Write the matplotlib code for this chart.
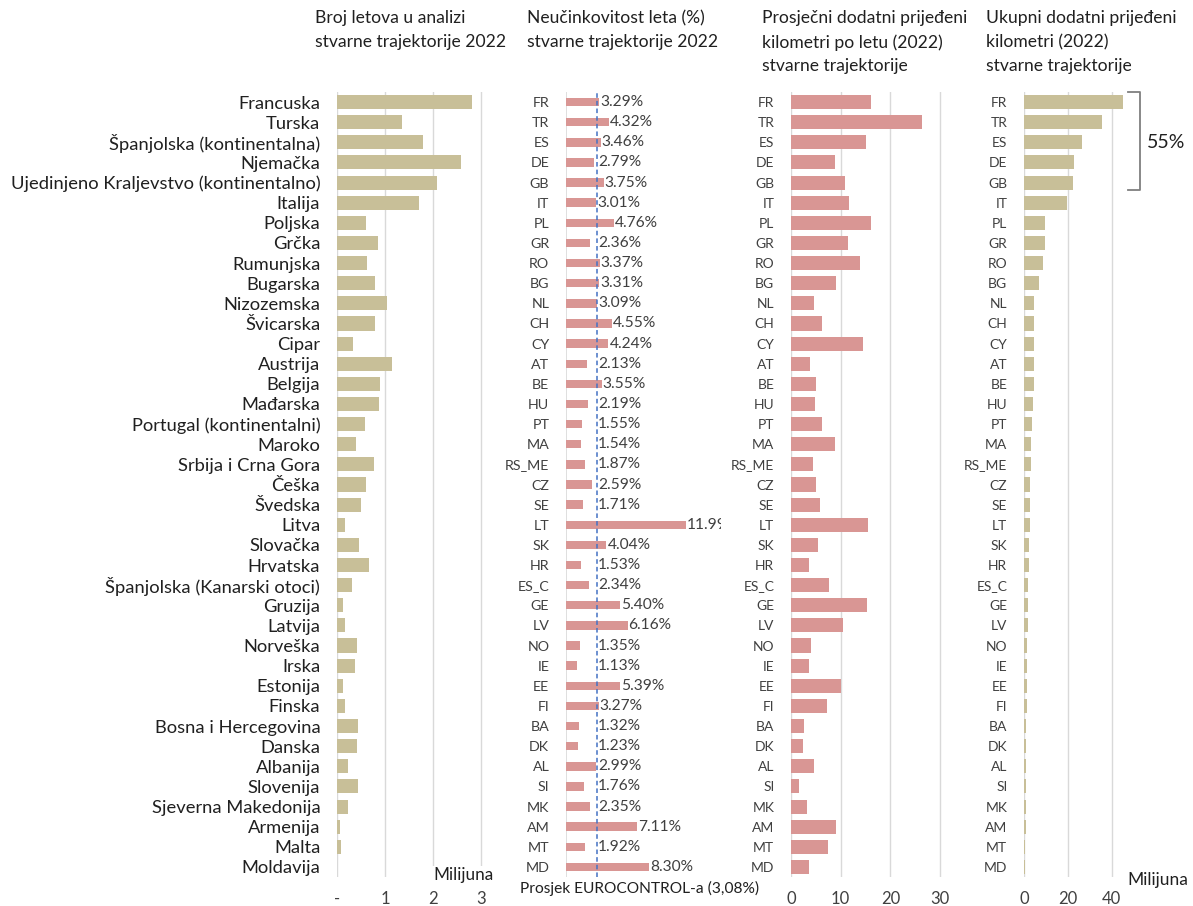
import matplotlib
matplotlib.use("Agg")
import matplotlib.pyplot as plt
from matplotlib.lines import Line2D

plt.rcParams['font.family'] = ['Lato', 'DejaVu Sans']

countries = ["Francuska", "Turska", "Španjolska (kontinentalna)", "Njemačka",
             "Ujedinjeno Kraljevstvo (kontinentalno)", "Italija", "Poljska", "Grčka",
             "Rumunjska", "Bugarska", "Nizozemska", "Švicarska", "Cipar", "Austrija",
             "Belgija", "Mađarska", "Portugal (kontinentalni)", "Maroko",
             "Srbija i Crna Gora", "Češka", "Švedska", "Litva", "Slovačka", "Hrvatska",
             "Španjolska (Kanarski otoci)", "Gruzija", "Latvija", "Norveška", "Irska",
             "Estonija", "Finska", "Bosna i Hercegovina", "Danska", "Albanija",
             "Slovenija", "Sjeverna Makedonija", "Armenija", "Malta", "Moldavija"]
codes = ["FR", "TR", "ES", "DE", "GB", "IT", "PL", "GR", "RO", "BG", "NL", "CH", "CY",
         "AT", "BE", "HU", "PT", "MA", "RS_ME", "CZ", "SE", "LT", "SK", "HR", "ES_C",
         "GE", "LV", "NO", "IE", "EE", "FI", "BA", "DK", "AL", "SI", "MK", "AM", "MT", "MD"]
flights_m = [2.81, 1.35, 1.79, 2.58, 2.07, 1.70, 0.60, 0.85, 0.63, 0.79, 1.03, 0.78, 0.33,
             1.15, 0.89, 0.87, 0.58, 0.39, 0.76, 0.60, 0.50, 0.17, 0.45, 0.67, 0.31,
             0.13, 0.17, 0.42, 0.37, 0.13, 0.16, 0.44, 0.42, 0.22, 0.44, 0.22, 0.07,
             0.08, 0.01]
inefficiency = [3.29, 4.32, 3.46, 2.79, 3.75, 3.01, 4.76, 2.36, 3.37, 3.31, 3.09, 4.55,
                4.24, 2.13, 3.55, 2.19, 1.55, 1.54, 1.87, 2.59, 1.71, 11.99, 4.04, 1.53,
                2.34, 5.40, 6.16, 1.35, 1.13, 5.39, 3.27, 1.32, 1.23, 2.99, 1.76, 2.35,
                7.11, 1.92, 8.30]
avg_km = [16.1, 26.4, 15.0, 8.9, 10.9, 11.7, 16.1, 11.4, 13.8, 9.0, 4.7, 6.2, 14.4,
          3.9, 5.0, 4.8, 6.3, 8.9, 4.5, 5.0, 5.9, 15.4, 5.4, 3.6, 7.6, 15.3, 10.5,
          4.0, 3.7, 10.1, 7.2, 2.7, 2.5, 4.6, 1.7, 3.2, 9.0, 7.4, 3.7]
total_km_m = [45.0, 35.6, 26.5, 22.7, 22.4, 19.7, 9.5, 9.4, 8.6, 6.8, 4.7, 4.7, 4.7,
              4.4, 4.4, 3.9, 3.6, 3.3, 3.3, 2.9, 2.7, 2.6, 2.3, 2.3, 2.0, 1.8, 1.7,
              1.5, 1.5, 1.4, 1.2, 1.1, 1.1, 0.9, 0.9, 0.8, 0.8, 0.6, 0.4]
eurocontrol_avg = 3.08
top5_share = "55%"

titles = ["Broj letova u analizi\nstvarne trajektorije 2022",
          "Neučinkovitost leta (%)\nstvarne trajektorije 2022",
          "Prosječni dodatni prijeđeni\nkilometri po letu (2022)\nstvarne trajektorije",
          "Ukupni dodatni prijeđeni\nkilometri (2022)\nstvarne trajektorije"]

TAN = "#C8BF98"
PINK = "#D99694"
GRID = "#D9D9D9"
TXT = "#404040"

W, H = 1193, 906
fig = plt.figure(figsize=(W / 100, H / 100), dpi=100)

def fx(px):
    return px / W

def fy(py):
    return 1 - py / H

top_px, bot_px = 92, 877
n = len(codes)
ypos = list(range(n))

def make_ax(left_px, width_px):
    ax = fig.add_axes([fx(left_px), fy(bot_px), width_px / W, (bot_px - top_px) / H])
    ax.set_ylim(n - 0.5, -0.5)
    for s in ax.spines.values():
        s.set_visible(False)
    ax.tick_params(axis='both', length=0)
    return ax

# Panel 1
ax1 = make_ax(337, 154)
ax1.set_xlim(0, 3.2)
ax1.barh(ypos, flights_m, height=0.7, color=TAN, zorder=3)
ax1.set_xticks([0, 1, 2, 3])
ax1.set_xticklabels(["-", "1", "2", "3"], fontsize=12, color=TXT)
ax1.tick_params(axis='x', pad=10)
for x in [0, 1, 2, 3]:
    ax1.axvline(x, color=GRID, lw=1, zorder=1)
ax1.set_yticks(ypos)
ax1.set_yticklabels(countries, fontsize=13.2, color="#202020")
ax1.tick_params(axis='y', pad=12)
ax1.text(1.02, -0.008, "Milijuna", transform=ax1.transAxes, ha='right', va='bottom',
         fontsize=12.3, color="#202020", zorder=5,
         bbox=dict(facecolor='white', edgecolor='none', pad=1))

# Panel 2
ax2 = make_ax(566, 155)
ax2.set_xlim(0, 15.5)
ax2.barh(ypos, inefficiency, height=0.42, color=PINK, zorder=3)
ax2.axvline(0, color=GRID, lw=1.2, zorder=1)
ax2.axvline(eurocontrol_avg, color="#4472C4", lw=1.1, ls=(0, (3, 2)), zorder=4)
ax2.set_xticks([])
ax2.set_yticks(ypos)
ax2.set_yticklabels(codes, fontsize=10.3, color=TXT)
ax2.tick_params(axis='y', pad=12)
for y, v in zip(ypos, inefficiency):
    ax2.text(max(v, eurocontrol_avg) + 0.1, y, f"{v:.2f}%", va='center', ha='left',
             fontsize=11.2, color=TXT, clip_on=True, zorder=5)
fig.text(fx(520), fy(888), "Prosjek EUROCONTROL-a (3,08%)", ha='left', va='center',
         fontsize=11.2, color="#202020")

# Panel 3
ax3 = make_ax(791, 160)
ax3.set_xlim(0, 32.2)
ax3.barh(ypos, avg_km, height=0.7, color=PINK, zorder=3)
for x in [0, 10, 20, 30]:
    ax3.axvline(x, color=GRID, lw=1, zorder=1)
ax3.set_xticks([0, 10, 20, 30])
ax3.set_xticklabels(["0", "10", "20", "30"], fontsize=12, color=TXT)
ax3.tick_params(axis='x', pad=10)
ax3.set_yticks(ypos)
ax3.set_yticklabels(codes, fontsize=10, color=TXT)
ax3.tick_params(axis='y', pad=12)

# Panel 4
ax4 = make_ax(1024, 101)
ax4.set_xlim(0, 46)
ax4.barh(ypos, total_km_m, height=0.7, color=TAN, zorder=3)
for x in [0, 20, 40]:
    ax4.axvline(x, color=GRID, lw=1, zorder=1)
ax4.set_xticks([0, 20, 40])
ax4.set_xticklabels(["0", "20", "40"], fontsize=12, color=TXT)
ax4.tick_params(axis='x', pad=10)
ax4.set_yticks(ypos)
ax4.set_yticklabels(codes, fontsize=10, color=TXT)
ax4.tick_params(axis='y', pad=12)
fig.text(fx(1127), fy(880), "Milijuna", ha='left', va='center', fontsize=12.5,
         color="#202020")

# bracket
bx = [fx(1128), fx(1140), fx(1140), fx(1128)]
by = [fy(92), fy(92), fy(190), fy(190)]
fig.add_artist(Line2D(bx, by, transform=fig.transFigure, color="#7F7F7F", lw=1.3))
fig.text(fx(1147), fy(143), top5_share, ha='left', va='center', fontsize=14,
         color="#202020")

# titles
title_pos = [(315, 10), (527, 10), (762, 10), (986, 10)]
for (tx, ty), t in zip(title_pos, titles):
    fig.text(fx(tx), fy(ty), t, ha='left', va='top', fontsize=12.6, color="#202020",
             linespacing=1.6)

fig.savefig("out.png", dpi=100)
